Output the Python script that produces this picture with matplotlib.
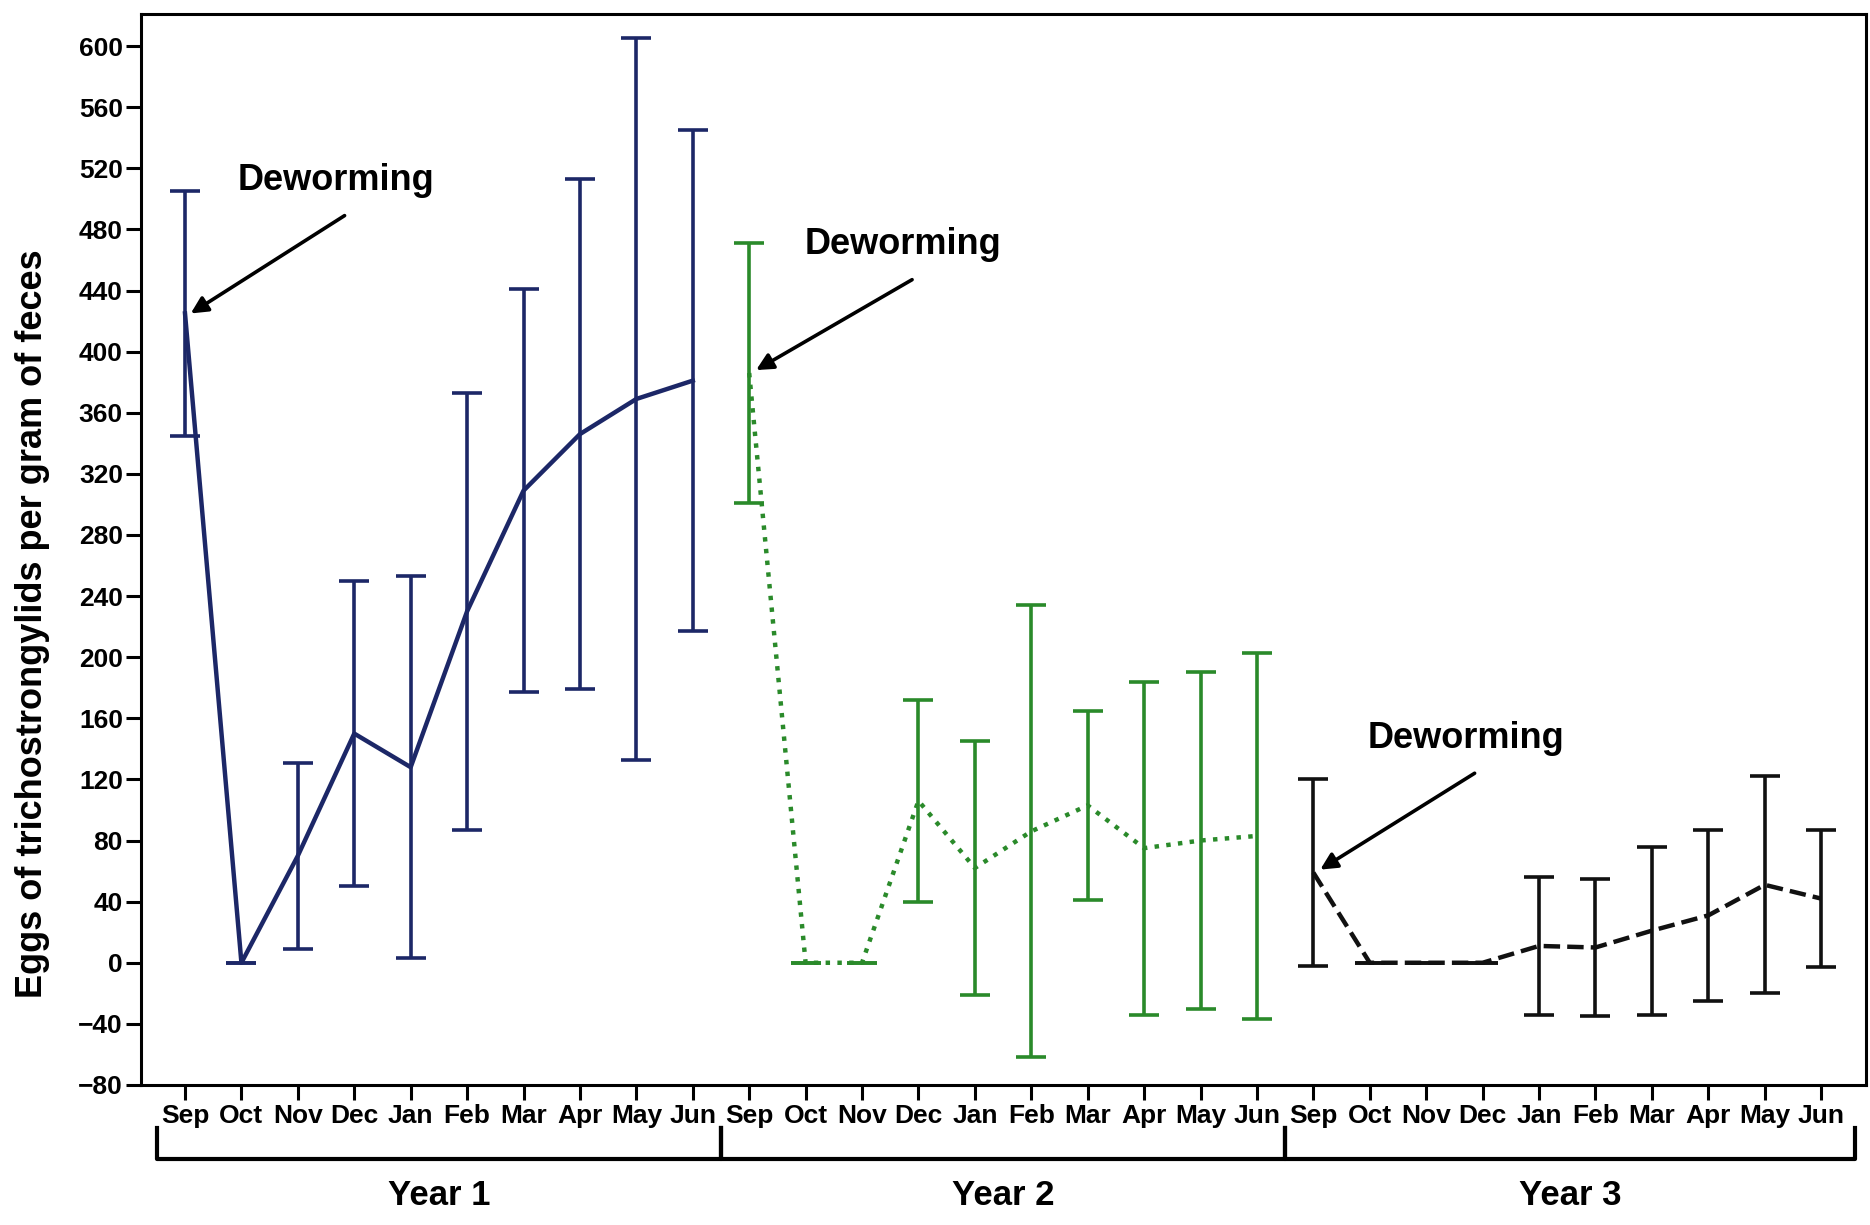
import numpy as np
import matplotlib.pyplot as plt

plt.rcParams['font.family'] = ['Liberation Sans', 'DejaVu Sans']
plt.rcParams['font.weight'] = 'bold'

months = ['Sep', 'Oct', 'Nov', 'Dec', 'Jan', 'Feb', 'Mar', 'Apr', 'May', 'Jun']
years = ['Year 1', 'Year 2', 'Year 3']

y1_mean = [425, 0, 70, 150, 128, 230, 309, 346, 369, 381]
y1_err = [80, 0, 61, 100, 125, 143, 132, 167, 236, 164]
y2_mean = [386, 0, 0, 106, 62, 86, 103, 75, 80, 83]
y2_err = [85, 0, 0, 66, 83, 148, 62, 109, 110, 120]
y3_mean = [59, 0, 0, 0, 11, 10, 21, 31, 51, 42]
y3_err = [61, 0, 0, 0, 45, 45, 55, 56, 71, 45]

fig = plt.figure(figsize=(18.7, 12.25), dpi=100)
ax = fig.add_axes([0.0754, 0.1143, 0.9226, 0.8743])

x = np.arange(10)
styles = [('#1c2767', '-'), ('#2a8a2a', ':'), ('#111111', '--')]
for k, (m, e) in enumerate([(y1_mean, y1_err), (y2_mean, y2_err), (y3_mean, y3_err)]):
    c, ls = styles[k]
    ax.errorbar(x + 10 * k, m, yerr=e, color=c, ls=ls, lw=3.2,
                elinewidth=2.6, capsize=11, capthick=2.6)

# deworming arrows
notes = [(2.67, 512, 0.06, 424), (12.73, 470, 10.08, 387), (22.7, 147, 20.08, 60)]
for tx, ty, ax_, ay in notes:
    ax.annotate('', xy=(ax_, ay), xytext=(tx + 0.2, ty - 22),
                arrowprops=dict(arrowstyle='-|>', color='black', lw=2.6,
                                mutation_scale=25))
    ax.text(tx, ty, 'Deworming', ha='center', va='center', fontsize=26,
            fontweight='bold')

ax.set_xlim(-0.78, 29.8)
ax.set_ylim(-80, 621)
ax.set_yticks(np.arange(-80, 601, 40))
ax.set_xticks(np.arange(30))
ax.set_xticklabels(months * 3)
ax.tick_params(axis='both', labelsize=19, width=2.2, length=11, direction='out')
ax.tick_params(axis='y', pad=2)
ax.tick_params(axis='x', pad=3)
for s in ax.spines.values():
    s.set_linewidth(2.2)
ax.set_ylabel('Eggs of trichostrongylids per gram of feces', fontsize=26,
              fontweight='bold')
ax.yaxis.set_label_coords(-0.053, 0.431)

# year brackets under the month labels
tr = ax.get_xaxis_transform()
bounds = [(-0.5, 9.5), (9.5, 19.5), (19.5, 29.6)]
for (a, b), name in zip(bounds, years):
    ax.plot([a, a, b, b], [-0.04, -0.069, -0.069, -0.04], color='black', lw=3,
            transform=tr, clip_on=False)
    ax.text((a + b) / 2, -0.103, name, transform=tr, ha='center', va='center',
            fontsize=25, fontweight='bold')

fig.savefig('out.png', dpi=100)
